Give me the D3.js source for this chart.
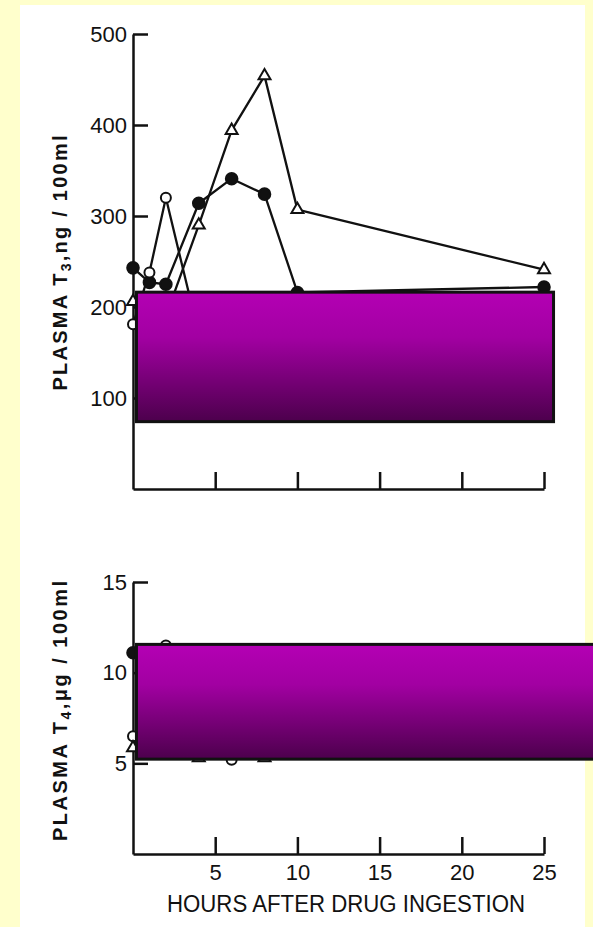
<!DOCTYPE html>
<html>
<head>
<meta charset="utf-8">
<script src="https://cdn.jsdelivr.net/npm/d3@7"></script>
<style>
  body { margin: 0; background: #ffffcc; }
  svg { display: block; }
  text { font-family: "Liberation Sans", Arial, sans-serif; fill: #111; }
</style>
</head>
<body>
<div id="chart"></div>
<script>
// hours after drug ingestion
const hours = [0, 1, 2, 4, 6, 8, 10, 25];

// plasma T3, ng/100ml
const t3Filled = [243, 227, 225, 314, 341, 324, 216, 222];
const t3Open = [181, 238, 320, 170, 185, 190, 200, 205];
const t3Triangle = [206, 195, 190, 290, 394, 454, 307, 241];

// plasma T4, ug/100ml
const t4Filled = [11.1, 10.4, 10.8, 10.2, 10.6, 10.4, 10.5, 10.8];
const t4Open = [6.5, 7.5, 11.5, 8.0, 5.2, 7.0, 7.5, 8.0];
const t4Triangle = [5.85, 6.5, 7.0, 5.3, 7.5, 5.3, 6.5, 7.0];

// tick labels
const xTicks = [5, 10, 15, 20, 25];
const t3Ticks = [100, 200, 300, 400, 500];
const t4Ticks = [5, 10, 15];

const width = 593,
  height = 927;

const svg = d3
  .select("#chart")
  .append("svg")
  .attr("width", width)
  .attr("height", height);

// gradient for the cover boxes
const grad = svg
  .append("defs")
  .append("linearGradient")
  .attr("id", "boxgrad")
  .attr("x1", "0%")
  .attr("y1", "0%")
  .attr("x2", "0%")
  .attr("y2", "100%");
grad.append("stop").attr("offset", "0%").attr("stop-color", "#b400b4");
grad.append("stop").attr("offset", "35%").attr("stop-color", "#a200a2");
grad.append("stop").attr("offset", "100%").attr("stop-color", "#4c004c");

// white page
svg
  .append("rect")
  .attr("x", 20)
  .attr("y", 5)
  .attr("width", 565)
  .attr("height", 922)
  .attr("fill", "#fff");

const x = d3.scaleLinear().domain([0, 25]).range([133, 544]);
const yT3 = d3.scaleLinear().domain([0, 500]).range([489, 34]);
const yT4 = d3.scaleLinear().domain([0, 15]).range([854, 582]);

function drawPanel(y, yTicks, series, showXLabels, cover) {
  const g = svg.append("g");

  // y axis, ticks pointing inward
  g.append("g")
    .attr("transform", `translate(${x(0)},0)`)
    .call(d3.axisLeft(y).tickValues(yTicks).tickSize(-15).tickSizeOuter(0).tickPadding(6))
    .call((a) => a.selectAll("path, line").attr("stroke", "#111").attr("stroke-width", 2.5))
    .call((a) => a.selectAll("text").attr("font-size", 22).attr("fill", "#111"));

  // x axis, ticks pointing up
  g.append("g")
    .attr("transform", `translate(0,${y(0)})`)
    .call(
      d3.axisBottom(x)
        .tickValues(xTicks)
        .tickSize(-17)
        .tickSizeOuter(0)
        .tickPadding(10)
        .tickFormat(showXLabels ? d3.format("d") : () => "")
    )
    .call((a) => a.selectAll("path, line").attr("stroke", "#111").attr("stroke-width", 2.5))
    .call((a) => a.selectAll("text").attr("font-size", 22).attr("fill", "#111"));

  const line = d3
    .line()
    .x((d) => x(d[0]))
    .y((d) => y(d[1]));

  series.forEach((s) => {
    const pts = hours.map((h, i) => [h, s.values[i]]);
    g.append("path")
      .attr("d", line(pts))
      .attr("fill", "none")
      .attr("stroke", "#111")
      .attr("stroke-width", 2.3)
      .attr("stroke-linejoin", "round");
  });

  series.forEach((s) => {
    const pts = hours.map((h, i) => [h, s.values[i]]);
    if (s.kind === "triangle") {
      g.selectAll(null)
        .data(pts)
        .enter()
        .append("path")
        .attr("d", d3.symbol(d3.symbolTriangle, 62))
        .attr("transform", (d) => `translate(${x(d[0])},${y(d[1])})`)
        .attr("fill", "#fff")
        .attr("stroke", "#111")
        .attr("stroke-width", 2);
    } else {
      g.selectAll(null)
        .data(pts)
        .enter()
        .append("circle")
        .attr("cx", (d) => x(d[0]))
        .attr("cy", (d) => y(d[1]))
        .attr("r", s.kind === "filled" ? 5.8 : 5)
        .attr("fill", s.kind === "filled" ? "#111" : "#fff")
        .attr("stroke", "#111")
        .attr("stroke-width", 2);
    }
  });

  // purple cover box
  g.append("rect")
    .attr("x", x(cover[0]))
    .attr("y", y(cover[3]))
    .attr("width", x(cover[1]) - x(cover[0]))
    .attr("height", y(cover[2]) - y(cover[3]))
    .attr("fill", "url(#boxgrad)")
    .attr("stroke", "#111")
    .attr("stroke-width", 3);
}

drawPanel(
  yT3,
  t3Ticks,
  [
    { kind: "filled", values: t3Filled },
    { kind: "open", values: t3Open },
    { kind: "triangle", values: t3Triangle },
  ],
  false,
  [0.21, 25.58, 74, 216.3]
);

drawPanel(
  yT4,
  t4Ticks,
  [
    { kind: "filled", values: t4Filled },
    { kind: "open", values: t4Open },
    { kind: "triangle", values: t4Triangle },
  ],
  true,
  [0.21, 29, 5.23, 11.56]
);

// axis titles
function yTitle(cy, len, sub, unit) {
  const t = svg
    .append("text")
    .attr("transform", `translate(67,${cy}) rotate(-90)`)
    .attr("text-anchor", "middle")
    .attr("font-size", 20)
    .attr("font-weight", "bold")
    .attr("textLength", len)
    .attr("lengthAdjust", "spacing");
  t.append("tspan").text("PLASMA T");
  t.append("tspan").attr("font-size", 14).attr("dy", 4).text(sub);
  t.append("tspan").attr("dy", -4).text(unit);
}
yTitle(263, 255, "3", ",ng / 100ml");
yTitle(711, 260, "4", ",\u03bcg / 100ml");

svg
  .append("text")
  .attr("x", 346)
  .attr("y", 912)
  .attr("text-anchor", "middle")
  .attr("font-size", 23)
  .attr("textLength", 358)
  .attr("lengthAdjust", "spacingAndGlyphs")
  .text("HOURS AFTER DRUG INGESTION");
</script>
</body>
</html>
